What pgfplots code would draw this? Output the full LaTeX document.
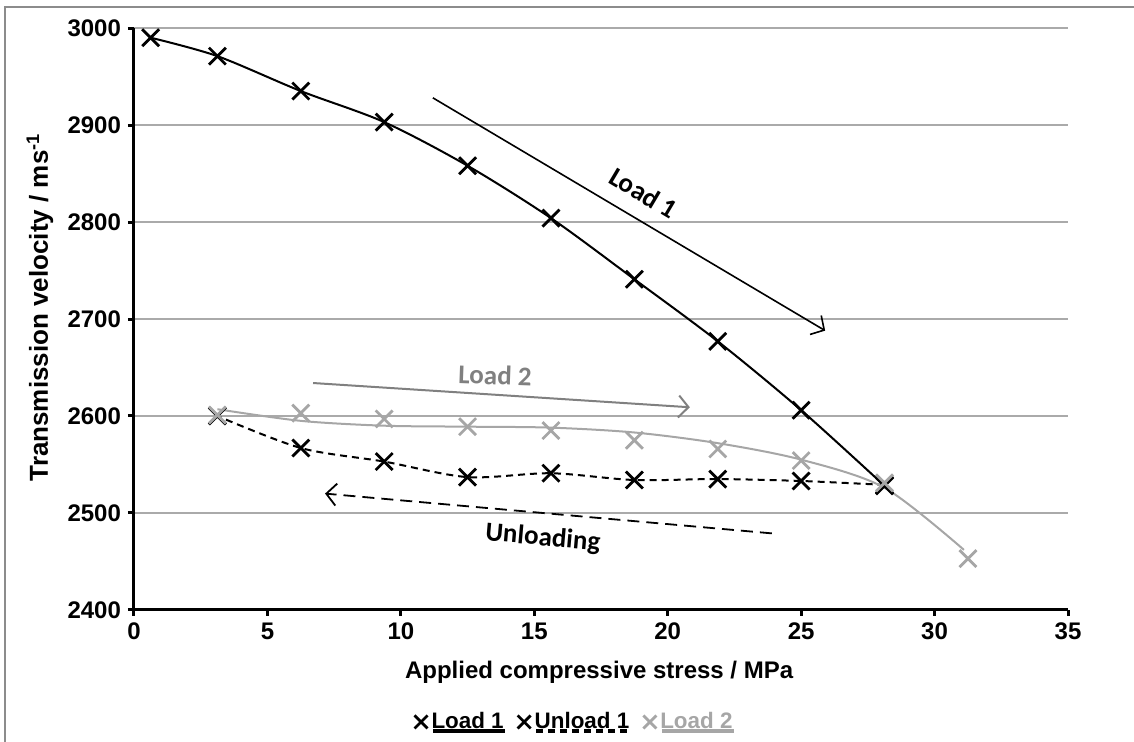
\documentclass[border=0pt]{standalone}
\usepackage{pgfplots}
\pgfplotsset{compat=1.18}
\usepackage{fontspec}
\setmainfont{Liberation Sans}
\newfontfamily\calibri{Carlito}
\usetikzlibrary{arrows.meta}

\definecolor{gridgray}{RGB}{170,170,170}
\definecolor{lightser}{RGB}{166,166,166}
\definecolor{annogray}{RGB}{128,128,128}
\definecolor{framegray}{RGB}{140,140,140}

% legend sample: the marker, with the series line drawn under the entry text
\pgfplotsset{
  ulegend/.style={legend image code/.code={
    \draw[##1, overlay, mark=none, solid, line width=1.6pt] (6pt,-4.5pt) -- ++(#1,0pt);
    \draw[##1, mark size=4.6pt] plot coordinates {(0pt,0pt)};
  }},
  ulegenddash/.style={legend image code/.code={
    \draw[##1, overlay, mark=none, line width=1.6pt] (6pt,-4.5pt) -- ++(#1,0pt);
    \draw[##1, mark size=4.6pt] plot coordinates {(0pt,0pt)};
  }},
}

% Ultrasonic transmission velocity under compressive loading
\pgfplotstableread{
x      v
0.625  2990
3.125  2971
6.25   2935
9.375  2903
12.5   2858
15.625 2804
18.75  2741
21.875 2677
25     2606
28.125 2528
}\loadone

\pgfplotstableread{
x      v
28.125 2529
25     2533
21.875 2535
18.75  2534
15.625 2541
12.5   2537
9.375  2553
6.25   2567
3.125  2600
}\unloadone

\pgfplotstableread{
x      v
3.125  2601
6.25   2603
9.375  2597
12.5   2589
15.625 2585
18.75  2575
21.875 2566
25     2554
28.125 2531
31.25  2453
}\loadtwo

% fitted trend through the second loading run
\pgfplotstableread{
x      v
3.125  2607
6.25   2595
9.375  2590
12.5   2589
15.625 2588
18.75  2583
21.875 2572
25     2555
28.125 2526
31.1   2462
}\loadtwotrend

\begin{document}
\begin{tikzpicture}
\useasboundingbox (-67pt,-66pt) rectangle (500pt,305pt);
\draw[framegray, line width=0.8pt] (-64.5pt,-90pt) rectangle (530pt,301.5pt);
\begin{axis}[
  scale only axis, width=467pt, height=291pt,
  xmin=0, xmax=35, ymin=2400, ymax=3000,
  xtick={0,5,...,35}, ytick={2400,2500,...,3000},
  axis x line*=bottom, axis y line*=left,
  axis line style={line width=1.5pt, black},
  tick align=outside, major tick length=3pt,
  tick style={line width=1.5pt, black},
  ymajorgrids, grid style={gridgray, line width=0.6pt},
  ticklabel style={font=\bfseries\fontsize{12}{14}\selectfont},
  /pgf/number format/assume math mode=true,
  /pgf/number format/set thousands separator={},
  xlabel={Applied compressive stress / MPa},
  ylabel={Transmission velocity / ms\textsuperscript{-1}},
  every axis x label/.style={at={(axis description cs:0.498,-0.1065)}, anchor=center,
    font=\bfseries\fontsize{12}{14}\selectfont},
  every axis y label/.style={at={(axis description cs:-0.1006,0.52)}, anchor=center, rotate=90,
    font=\bfseries\fontsize{13}{15}\selectfont},
  legend columns=-1,
  legend style={draw=none, fill=none, at={(axis description cs:0.4727,-0.1924)}, anchor=center,
    font=\bfseries\fontsize{11.2}{13}\selectfont,
    /tikz/every odd column/.append style={column sep=0pt},
    /tikz/every even column/.append style={column sep=5pt}},
]
\addplot[black, line width=1pt, smooth, mark=x, mark size=6pt,
  mark options={solid, line width=1.4pt}, ulegend=36pt] table[x=x, y=v] {\loadone};
\addlegendentry{Load 1}

\addplot[black, line width=1pt, smooth, dash pattern=on 3.5pt off 2.5pt, mark=x, mark size=6pt,
  mark options={solid, line width=1.4pt}, ulegenddash=46pt] table[x=x, y=v] {\unloadone};
\addlegendentry{Unload 1}

\addplot[lightser, line width=1pt, only marks, mark=x, mark size=6pt,
  mark options={solid, line width=1.4pt}, ulegend=36pt] table[x=x, y=v] {\loadtwo};
\addlegendentry{\textcolor{lightser}{Load 2}}

\addplot[lightser, line width=1pt, smooth, no marks, forget plot] table[x=x, y=v] {\loadtwotrend};

% direction annotations
\draw[black, line width=0.8pt, -{Straight Barb[length=5pt,width=11pt]}]
  (axis cs:11.2,2928) -- (axis cs:25.9,2688);
\node[rotate=-30.7, font=\calibri\bfseries\fontsize{13.5}{16}\selectfont]
  at (axis cs:19.1,2830) {Load 1};

\draw[annogray, line width=1pt, -{Straight Barb[length=5pt,width=11pt]}]
  (axis cs:6.71,2634) -- (axis cs:20.83,2609);
\node[annogray, rotate=-2, font=\calibri\bfseries\fontsize{13.5}{16}\selectfont]
  at (axis cs:13.53,2642) {Load 2};

\draw[black, line width=0.9pt, dash pattern=on 6pt off 3.5pt, -{Straight Barb[length=5pt,width=11pt]}]
  (axis cs:23.9,2479) -- (axis cs:7.16,2520);
\node[rotate=-5, font=\calibri\bfseries\fontsize{13.5}{16}\selectfont]
  at (axis cs:15.32,2474) {Unloading};
\end{axis}
\end{tikzpicture}
\end{document}
